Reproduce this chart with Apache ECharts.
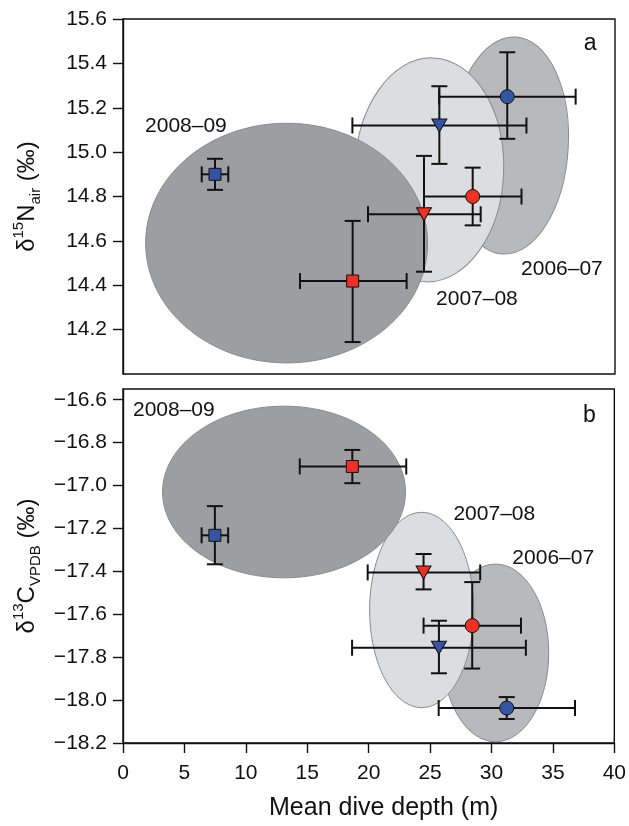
<!DOCTYPE html>
<html>
<head>
<meta charset="utf-8">
<script src="https://cdn.jsdelivr.net/npm/echarts@6/dist/echarts.min.js"></script>
<style>
  html, body { margin: 0; padding: 0; background: #fff; }
  #chart { width: 629px; height: 826px; }
</style>
</head>
<body>
<div id="chart"></div>
<script>
// seasons in drawing order (back to front)
const seasons = ['2006–07', '2007–08', '2008–09']

// mean dive depth (m) with ranges, blue and red groups
const depthBlue = [31.24, 25.72, 7.48]
const depthBlueLo = [25.7, 18.65, 6.4]
const depthBlueHi = [36.8, 32.8, 8.56]
const depthRed = [28.43, 24.47, 18.67]
const depthRedLo = [24.47, 19.92, 14.39]
const depthRedHi = [32.4, 29.08, 23.06]

// panel a: δ15N
const nBlue = [15.25, 15.12, 14.9]
const nBlueLo = [15.06, 14.947, 14.83]
const nBlueHi = [15.45, 15.297, 14.97]
const nRed = [14.8, 14.72, 14.419]
const nRedLo = [14.67, 14.461, 14.144]
const nRedHi = [14.93, 14.983, 14.69]

// panel b: δ13C
const cBlue = [-18.037, -17.756, -17.232]
const cBlueLo = [-18.088, -17.875, -17.367]
const cBlueHi = [-17.986, -17.63, -17.096]
const cRed = [-17.653, -17.405, -16.911]
const cRedLo = [-17.853, -17.484, -16.989]
const cRedHi = [-17.45, -17.319, -16.834]

// season ellipses: centre x, centre y, radius x, radius y, tilt (deg)
const ellA_cx = [31.4, 24.9, 13.3]
const ellA_cy = [15.03, 14.92, 14.59]
const ellA_rx = [4.8, 6.05, 11.46]
const ellA_ry = [0.49, 0.505, 0.54]
const ellA_tilt = [3.5, 2, 0]
const ellB_cx = [30.33, 24.32, 13.11]
const ellB_cy = [-17.78, -17.58, -17.03]
const ellB_rx = [4.33, 4.24, 9.89]
const ellB_ry = [0.414, 0.455, 0.4]
const ellB_tilt = [0, 0, 0]

// season labels, anchored at their left edge
const labelA_x = [32.36, 25.45, 1.79]
const labelA_y = [14.473, 14.338, 15.117]
const labelB_x = [31.7, 26.9, 0.81]
const labelB_y = [-17.339, -17.134, -16.651]

// tick labels
const xTicks = [0, 5, 10, 15, 20, 25, 30, 35, 40]
const yTicksA = [14.2, 14.4, 14.6, 14.8, 15.0, 15.2, 15.4, 15.6]
const yTicksB = [-18.2, -18.0, -17.8, -17.6, -17.4, -17.2, -17.0, -16.8, -16.6]

const font = 'Liberation Sans, Arial, Helvetica, sans-serif'
const fills = ['#b8b9bc', '#dcdde0', '#9d9ea1']
const blue = '#3454a4'
const red = '#ee3124'

const chart = echarts.init(document.getElementById('chart'))

function ellipseSeries(idx, cx, cy, rx, ry, tilt) {
  return {
    type: 'custom',
    xAxisIndex: idx,
    yAxisIndex: idx,
    z: 1,
    silent: true,
    data: seasons.map((s, i) => [cx[i], cy[i], rx[i], ry[i], tilt[i], i]),
    encode: { x: 0, y: 1 },
    renderItem(params, api) {
      const c = api.coord([api.value(0), api.value(1)])
      const sz = api.size([api.value(2), api.value(3)])
      return {
        type: 'ellipse',
        x: c[0],
        y: c[1],
        rotation: -api.value(4) * Math.PI / 180,
        shape: { cx: 0, cy: 0, rx: sz[0], ry: sz[1] },
        style: { fill: fills[api.value(5)], stroke: '#8a8b8e', lineWidth: 1 },
      }
    },
  }
}

function errorSeries(idx, xs, xlo, xhi, ys, ylo, yhi) {
  return {
    type: 'custom',
    xAxisIndex: idx,
    yAxisIndex: idx,
    z: 2,
    silent: true,
    data: xs.map((x, i) => [x, ys[i], xlo[i], xhi[i], ylo[i], yhi[i]]),
    encode: { x: [0, 2, 3], y: [1, 4, 5] },
    renderItem(params, api) {
      const p = api.coord([api.value(0), api.value(1)])
      const l = api.coord([api.value(2), api.value(1)])
      const r = api.coord([api.value(3), api.value(1)])
      const b = api.coord([api.value(0), api.value(4)])
      const t = api.coord([api.value(0), api.value(5)])
      const cap = 8
      const st = { stroke: '#111', lineWidth: 2 }
      const line = (x1, y1, x2, y2) => ({ type: 'line', shape: { x1, y1, x2, y2 }, style: st })
      return {
        type: 'group',
        children: [
          line(l[0], p[1], r[0], p[1]),
          line(l[0], p[1] - cap, l[0], p[1] + cap),
          line(r[0], p[1] - cap, r[0], p[1] + cap),
          line(p[0], b[1], p[0], t[1]),
          line(p[0] - cap, b[1], p[0] + cap, b[1]),
          line(p[0] - cap, t[1], p[0] + cap, t[1]),
        ],
      }
    },
  }
}

function markerSeries(idx, xs, ys, color) {
  return {
    type: 'scatter',
    xAxisIndex: idx,
    yAxisIndex: idx,
    z: 3,
    silent: true,
    data: xs.map((x, i) => [x, ys[i]]),
    symbol: (v, p) => (p.dataIndex === 0 ? 'circle' : p.dataIndex === 1 ? 'triangle' : 'rect'),
    symbolSize: (v, p) => (p.dataIndex === 0 ? 14 : p.dataIndex === 1 ? [15, 13] : 12),
    symbolRotate: (v, p) => (p.dataIndex === 1 ? 180 : 0),
    itemStyle: { color: color, borderColor: '#111', borderWidth: 1, opacity: 1 },
  }
}

function textSeries(idx, xs, ys, texts, size) {
  return {
    type: 'custom',
    xAxisIndex: idx,
    yAxisIndex: idx,
    z: 4,
    silent: true,
    data: xs.map((x, i) => [x, ys[i], i]),
    encode: { x: 0, y: 1 },
    renderItem(params, api) {
      const c = api.coord([api.value(0), api.value(1)])
      return {
        type: 'text',
        x: c[0],
        y: c[1],
        style: {
          text: texts[api.value(2)],
          fill: '#111',
          fontSize: size,
          fontFamily: font,
          align: 'left',
          verticalAlign: 'middle',
        },
      }
    },
  }
}

const minus = v => (v < 0 ? '\u2212' : '') + Math.abs(v).toFixed(1)

const yName = {
  fontSize: 24,
  fontFamily: font,
  color: '#111',
  rich: {
    m: { fontSize: 24, fontFamily: font, color: '#111', lineHeight: 32 },
    sup: { fontSize: 15, fontFamily: font, color: '#111', lineHeight: 15, verticalAlign: 'top' },
    sub: { fontSize: 15, fontFamily: font, color: '#111', lineHeight: 15, verticalAlign: 'bottom' },
  },
}

const yAxisBase = {
  type: 'value',
  nameLocation: 'middle',
  nameGap: 80,
  nameTextStyle: yName,
  splitLine: { show: false },
  axisLine: { show: true, lineStyle: { color: '#111', width: 1.4 } },
  axisTick: { show: true, length: 10, lineStyle: { color: '#111', width: 1.4 } },
  axisLabel: { color: '#111', fontSize: 21, fontFamily: font, margin: 16 },
}

chart.setOption({
  animation: false,
  backgroundColor: '#fff',
  grid: [
    { left: 123, right: 14, top: 19, height: 355, show: true, borderColor: '#111', borderWidth: 1.4, backgroundColor: 'transparent' },
    { left: 123, right: 14, top: 389, height: 354, show: true, borderColor: '#111', borderWidth: 1.4, backgroundColor: 'transparent' },
  ],
  xAxis: [
    {
      type: 'value', gridIndex: 0, min: 0, max: 40, interval: 5,
      splitLine: { show: false }, axisLine: { show: false },
      axisTick: { show: false }, axisLabel: { show: false },
    },
    {
      type: 'value', gridIndex: 1, min: 0, max: 40, interval: 5,
      name: 'Mean dive depth (m)',
      nameLocation: 'middle',
      nameGap: 53,
      nameTextStyle: { fontSize: 25, fontFamily: font, color: '#111', padding: [0, 0, 0, 30] },
      splitLine: { show: false },
      axisLine: { show: true, lineStyle: { color: '#111', width: 1.4 } },
      axisTick: { show: true, length: 10, customValues: xTicks, lineStyle: { color: '#111', width: 1.4 } },
      axisLabel: { color: '#111', fontSize: 21, fontFamily: font, margin: 20, customValues: xTicks },
    },
  ],
  yAxis: [
    Object.assign({}, yAxisBase, {
      gridIndex: 0, min: 14.0, max: 15.6, interval: 0.2,
      name: '{m|δ}{sup|15}{m|N}{sub|air}{m| (‰)}',
      axisTick: Object.assign({}, yAxisBase.axisTick, { customValues: yTicksA }),
      axisLabel: Object.assign({}, yAxisBase.axisLabel, { customValues: yTicksA, formatter: v => v.toFixed(1) }),
    }),
    Object.assign({}, yAxisBase, {
      gridIndex: 1, min: -18.2, max: -16.55, interval: 0.2,
      name: '{m|δ}{sup|13}{m|C}{sub|VPDB}{m| (‰)}',
      axisTick: Object.assign({}, yAxisBase.axisTick, { customValues: yTicksB }),
      axisLabel: Object.assign({}, yAxisBase.axisLabel, { customValues: yTicksB, formatter: minus }),
    }),
  ],
  series: [
    ellipseSeries(0, ellA_cx, ellA_cy, ellA_rx, ellA_ry, ellA_tilt),
    errorSeries(0, depthBlue, depthBlueLo, depthBlueHi, nBlue, nBlueLo, nBlueHi),
    errorSeries(0, depthRed, depthRedLo, depthRedHi, nRed, nRedLo, nRedHi),
    markerSeries(0, depthBlue, nBlue, blue),
    markerSeries(0, depthRed, nRed, red),
    textSeries(0, labelA_x, labelA_y, seasons, 21),
    textSeries(0, [37.45], [15.487], ['a'], 23),

    ellipseSeries(1, ellB_cx, ellB_cy, ellB_rx, ellB_ry, ellB_tilt),
    errorSeries(1, depthBlue, depthBlueLo, depthBlueHi, cBlue, cBlueLo, cBlueHi),
    errorSeries(1, depthRed, depthRedLo, depthRedHi, cRed, cRedLo, cRedHi),
    markerSeries(1, depthBlue, cBlue, blue),
    markerSeries(1, depthRed, cRed, red),
    textSeries(1, labelB_x, labelB_y, seasons, 21),
    textSeries(1, [37.45], [-16.674], ['b'], 23),
  ],
})
</script>
</body>
</html>
